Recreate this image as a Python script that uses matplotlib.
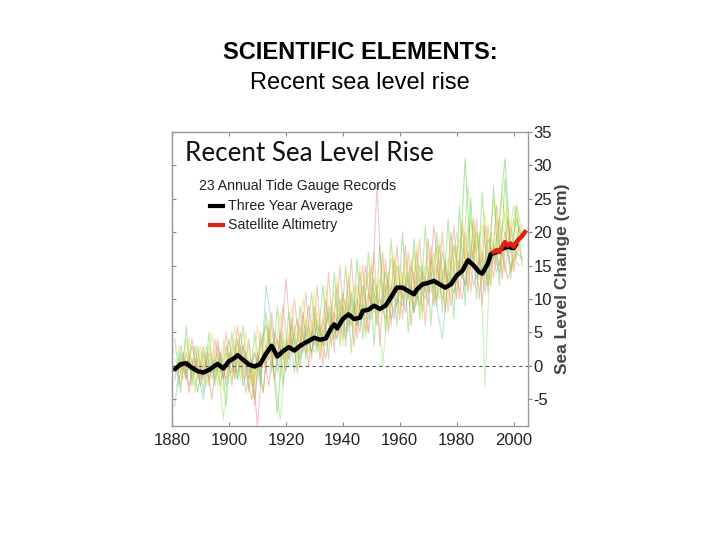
import matplotlib
matplotlib.use("Agg")
import matplotlib.pyplot as plt

plt.rcParams["axes.unicode_minus"] = False

# ---------------- data ----------------
odd_years = list(range(1881, 2004, 2))
even_years = list(range(1882, 2003, 2))

gauge_a = [-2, 3, -1, 1, -4, 2, -2, 1, -3, 3,
           -1, 4, -3, 1, -5, 3, 6, 2, -7, 4,
           1, 5, 0, 6, 2, 7, 3, 8, 4, 10,
           5, 11, 6, 12, 7, 13, 8, 14, 9, 15,
           10, 14, 8, 15, 11, 16, 10, 17, 12, 18,
           14, 31, 15, 20, 13, 19, 16, 22, 31, 17,
           22, 19]
gauge_b = [1, -2, 2, -1, 3, -3, 0, 2, -4, 1,
           4, -2, 2, -3, 0, 5, 1, 4, -2, 3,
           6, 1, 5, 2, 7, 3, 6, 9, 5, 10,
           8, 12, 7, 13, 9, 12, 8, 14, 10, 15,
           11, 16, 9, 14, 12, 17, 11, 15, 10, 18,
           13, 21, 16, 19, 12, 20, 15, 26, 17, 22,
           18]
gauge_c = [0, -3, 2, -2, 1, -2, 2, -1, 1, -2,
           2, -1, 3, -2, 2, -1, 3, 0, 4, 1,
           4, 2, 6, 2, 5, 3, 7, 4, 8, 5,
           9, 6, 10, 7, 11, 8, 10, 7, 12, 9,
           13, 10, 14, 9, 13, 11, 15, 10, 14, 12,
           16, 12, 18, 14, 17, 13, 18, 15, 20, 14,
           19, 16]
gauge_d = [-1, 2, -3, 1, -2, 2, -1, 4, -2, 2,
           -1, 3, -4, 1, -9, 2, -3, 5, 2, 13,
           3, 7, 2, 9, 3, 6, 1, 8, 4, 11,
           6, 9, 5, 15, 8, 27, 9, 13, 7, 12,
           8, 15, 10, 14, 9, 21, 12, 15, 9, 13,
           10, 17, 12, 16, 11, 18, 14, 17, 13, 16,
           15]
gauge_e = [-6, 2, -2, 3, -1, -5, 1, -2, 2, -3,
           1, -2, 3, -1, 2, -3, 12, 6, -1, 3,
           0, 4, 1, 5, 2, 6, 4, 9, 5, 8,
           4, 10, 6, 9, 5, 11, 8, 12, 7, 10,
           9, 13, 8, 12, 10, 14, 9, 4, 13, 11,
           15, 12, 17, 13, 16, 12, 17, 14, 18, 15,
           17, 16]
gauge_f = [2, -1, 1, -3, 0, 3, -2, 1, -8, 0,
           3, -1, 2, -2, 1, -4, 4, -1, -8, 2,
           4, 0, 3, 6, 2, 5, 3, 7, 4, 9,
           5, 10, 6, 9, 7, 11, 0, 10, 8, 13,
           9, 12, 10, 15, 11, 13, 10, 16, 12, 20,
           15, 27, 17, 20, -3, 19, 16, 21, 18, 24,
           20]
gauge_g = [1, -1, 4, -2, 2, -1, 3, -2, 0, 2,
           -2, 2, 0, 3, -3, 4, 0, 6, 1, 5,
           2, 6, 3, 7, 4, 8, 5, 7, 11, 6,
           10, 7, 12, 8, 14, 9, 13, 10, 16, 11,
           14, 12, 17, 11, 15, 13, 18, 12, 16, 14,
           19, 16, 22, 17, 21, 15, 25, 18, 23, 19,
           24, 20]
gauge_h = [-3, 1, -4, 3, -3, 1, -5, 3, -2, 4,
           -2, 5, -1, -5, 2, -4, 6, -2, 5, -1,
           7, -1, 8, 0, 9, 1, 10, 3, 12, 4,
           13, 3, 14, 5, 15, 6, 17, 5, 16, 7,
           18, 6, 17, 8, 19, 9, 18, 8, 20, 10,
           21, 11, 22, 10, 21, 12, 24, 13, 22, 14,
           21]
gauge_i = [4, -4, 6, -3, 3, -4, 5, -3, 2, -6,
           5, -2, 6, -4, 5, -2, 8, -1, 9, -3,
           8, -1, 9, 1, 11, 2, 12, 1, 14, 3,
           15, 2, 16, 4, 17, 3, 18, 5, 19, 6,
           20, 5, 19, 7, 21, 6, 20, 8, 22, 7,
           24, 9, 25, 10, 26, 11, 27, 12, 28, 13,
           24, 15]
gauge_j = [-1, 1, -2, 4, -2, 3, -3, 4, -1, 5,
           -3, 6, -2, 4, -6, 5, -1, 8, 0, 9,
           1, 10, 2, 11, 1, 12, 0, 14, 2, 15,
           3, 16, 4, 15, 5, 17, 3, 16, 6, 18,
           7, 17, 8, 19, 6, 18, 9, 20, 8, 21,
           10, 20, 11, 22, 9, 21, 13, 22, 14, 21,
           16, 21]
gauge_k = [3, -1, 4, -4, 2, -2, 5, -3, 4, -2,
           6, 0, 5, -3, 6, 0, 7, 1, 8, 0,
           9, 2, 10, 3, 11, 2, 12, 4, 13, 3,
           14, 5, 15, 4, 16, 7, 15, 6, 17, 8,
           16, 9, 18, 7, 17, 10, 19, 9, 18, 11,
           22, 12, 21, 13, 23, 12, 22, 14, 24, 15,
           22]

avg_years = [1881, 1883, 1885, 1887, 1889, 1891, 1893, 1895, 1896, 1898,
             1900, 1902, 1903, 1905, 1907, 1909, 1911, 1913, 1915, 1917,
             1919, 1921, 1923, 1925, 1927, 1930, 1932, 1934, 1936, 1937,
             1938, 1940, 1942, 1944, 1946, 1947, 1949, 1951, 1953, 1955,
             1957, 1959, 1961, 1963, 1965, 1966, 1968, 1970, 1972, 1974,
             1976, 1978, 1980, 1982, 1984, 1986, 1988, 1989, 1991, 1992,
             1994, 1996, 1998, 2000, 2001]
avg_level = [-0.5, 0.25, 0.4, -0.3, -0.8, -1.0, -0.6, 0.0, 0.3, -0.4,
             0.7, 1.2, 1.6, 0.9, 0.2, -0.1, 0.3, 1.8, 3.0, 1.4,
             2.2, 2.8, 2.3, 3.0, 3.5, 4.2, 3.9, 4.1, 5.7, 6.2,
             5.6, 7.0, 7.7, 7.0, 7.2, 8.2, 8.4, 9.0, 8.5, 9.0,
             10.3, 11.7, 11.7, 11.2, 10.7, 11.4, 12.2, 12.4, 12.7, 12.2,
             11.7, 12.2, 13.5, 14.2, 15.8, 15.0, 14.0, 13.8, 15.3, 16.7,
             17.0, 17.5, 17.8, 17.6, 18.2]

sat_years = [1993, 1994, 1995, 1996, 1997, 1998, 1999, 2000, 2001, 2002, 2003, 2004]
sat_level = [17.0, 17.3, 17.0, 17.8, 18.5, 18.0, 18.3, 17.8, 18.5, 19.0, 19.4, 20.0]

gauges = [(odd_years, gauge_a, "#4ccc33"), (even_years, gauge_b, "#e0d020"),
          (odd_years, gauge_c, "#e89a30"), (even_years, gauge_d, "#e88080"),
          (odd_years, gauge_e, "#55c8c0"), (even_years, gauge_f, "#8ee070"),
          (odd_years, gauge_g, "#c8dc30"), (even_years, gauge_h, "#d08838"),
          (odd_years, gauge_i, "#66cc55"), (odd_years, gauge_j, "#e09070"),
          (even_years, gauge_k, "#e8d848")]

xticks = [1880, 1900, 1920, 1940, 1960, 1980, 2000]
yticks = [-5, 0, 5, 10, 15, 20, 25, 30, 35]

# ---------------- figure ----------------
fig = plt.figure(figsize=(7.2, 5.4), dpi=100)
fig.patch.set_facecolor("white")

fig.text(0.5, 0.902, "SCIENTIFIC ELEMENTS:", ha="center", va="center",
         fontsize=17, fontweight="bold", family="Liberation Sans", color="black")
fig.text(0.5, 0.847, "Recent sea level rise", ha="center", va="center",
         fontsize=17, family="Liberation Sans", color="black")

ax = fig.add_axes([0.239, 0.211, 0.494, 0.545])
for xs, ys, c in gauges:
    ax.plot(xs, ys, color=c, lw=0.8, alpha=0.45)
ax.axhline(0, color="#555555", lw=0.8, ls=(0, (3, 3)))
ax.plot(avg_years, avg_level, color="black", lw=3.2, solid_capstyle="round")
ax.plot(sat_years, sat_level, color="#dd2211", lw=3.2)

ax.set_xlim(1880, 2005)
ax.set_ylim(-9, 35)
ax.set_xticks(xticks)
ax.set_yticks(yticks)
ax.yaxis.tick_right()
ax.yaxis.set_label_position("right")
ax.tick_params(axis="x", direction="in", top=True, length=3, color="#888888",
               labelsize=12, labelcolor="#222222", pad=5)
ax.tick_params(axis="y", direction="out", right=True, left=False, length=3,
               color="#888888", labelsize=12, labelcolor="#222222", pad=1)
for lab in ax.get_xticklabels() + ax.get_yticklabels():
    lab.set_family("Liberation Sans")
ax.set_ylabel("Sea Level Change (cm)", fontsize=12.5, color="#444444",
              family="Liberation Sans", fontweight="bold", labelpad=2)
for s in ax.spines.values():
    s.set_color("#999999")
    s.set_linewidth(1.0)

# inward ticks on the left side
left = ax.secondary_yaxis("left")
left.set_yticks(yticks)
left.tick_params(direction="in", length=3, color="#888888", labelleft=False)
left.spines["left"].set_color("#999999")

ax.text(0.035, 0.925, "Recent Sea Level Rise", transform=ax.transAxes,
        fontsize=18.7, family="Lato", color="#111111", va="center", ha="left")
ax.text(0.075, 0.816, "23 Annual Tide Gauge Records", transform=ax.transAxes,
        fontsize=10.2, family="Liberation Sans", color="#222222", va="center")
ax.plot([0.108, 0.142], [0.749, 0.749], transform=ax.transAxes, color="black", lw=3)
ax.text(0.158, 0.749, "Three Year Average", transform=ax.transAxes,
        fontsize=10.2, family="Liberation Sans", color="#222222", va="center")
ax.plot([0.108, 0.142], [0.684, 0.684], transform=ax.transAxes, color="#dd2211", lw=3)
ax.text(0.158, 0.684, "Satellite Altimetry", transform=ax.transAxes,
        fontsize=10.2, family="Liberation Sans", color="#222222", va="center")

fig.savefig("out.png", dpi=100, facecolor="white")
